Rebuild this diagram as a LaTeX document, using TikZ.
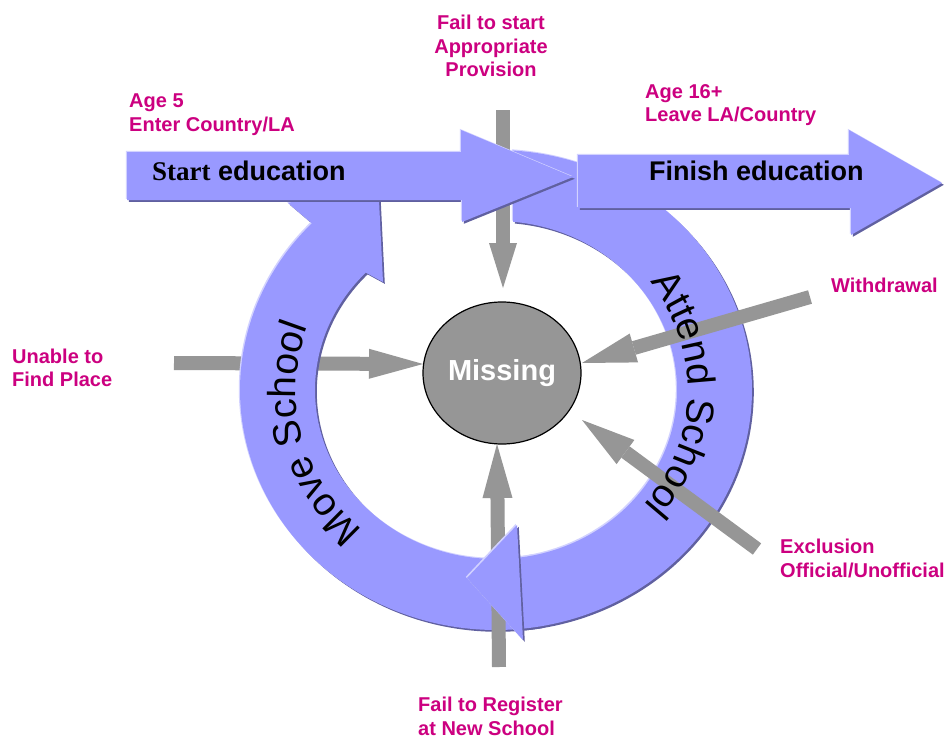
\documentclass[tikz,border=0pt]{standalone}
\usepackage{fontspec}
\setmainfont{Liberation Sans}
\newfontfamily\serifbold{Liberation Serif}
\usetikzlibrary{arrows.meta,decorations.text,shapes.geometric}
\definecolor{bandblue}{RGB}{153,153,255}
\definecolor{banddark}{RGB}{96,96,160}
\definecolor{bandlight}{RGB}{210,210,255}
\definecolor{arrowgray}{RGB}{150,150,150}
\definecolor{labelpink}{RGB}{204,0,128}
\newcommand\MoveBandPath{plot[domain=80:224,samples=120] ({496+256*cos(\x)},{390+240*sin(\x)}) -- (288,203) -- (378,180) -- (383,282) -- plot[domain=224:78,samples=120] ({496+181*cos(\x)},{390+169*sin(\x)}) -- cycle}
\newcommand\AttendBandPath{plot[domain=-86.2:84.6,samples=150] ({496+256*cos(\x)},{390+240*sin(\x)}) -- plot[domain=82.4:-84.6,samples=150] ({496+181*cos(\x)},{390+169*sin(\x)}) -- cycle}
\newcommand\AttendHeadPath{(467,578) -- (517,525) -- (523,640) -- cycle}
\newcommand\StartArrowPath{(127,152) -- (461,152) -- (461,130) -- (573,177) -- (462,222) -- (462,200) -- (127,200) -- cycle}
\newcommand\FinishArrowPath{(578,155) -- (849,155) -- (849,130) -- (942,183) -- (851,235) -- (851,208) -- (578,208) -- cycle}
\newcommand\bevelfill[1]{%
  \fill[banddark,shift={(1.8,1.8)}] #1;
  \fill[bandlight,shift={(-1.2,-1.2)}] #1;
  \fill[bandblue] #1;}
\tikzset{
  grayarr/.style={draw=arrowgray,line width=14pt,-{Triangle[length=54pt,width=30pt,line width=0pt]}},
  lbl/.style={text=labelpink,inner sep=0pt,font=\fontsize{20}{23.5}\selectfont\bfseries},
  bigtxt/.style={inner sep=0pt,anchor=base west,font=\fontsize{27}{27}\selectfont\bfseries},
}
\begin{document}
\begin{tikzpicture}[x=1pt,y=-1pt]
\useasboundingbox (0,0) rectangle (946,736);
\fill[white] (0,0) rectangle (946,736);
% coordinates for grey arrows
\coordinate (unT) at (174,363);  \coordinate (unH) at (423,364);
\coordinate (fsT) at (503,110);  \coordinate (fsH) at (503,288);
\coordinate (wdT) at (810,297);  \coordinate (wdH) at (582,363);
\coordinate (exT) at (757,549);  \coordinate (exH) at (582,420);
\coordinate (frT) at (499,667);  \coordinate (frH) at (497,444);
% arrow under the Move School band
\draw[grayarr] (unT) -- (unH);
% bands
\bevelfill{\MoveBandPath}
\bevelfill{\AttendBandPath}
% grey arrows above the bands
\draw[grayarr,-{Triangle[length=45pt,width=28pt,line width=0pt]}] (fsT) -- (fsH);
\draw[grayarr] (wdT) -- (wdH);
\draw[grayarr] (exT) -- (exH);
\draw[grayarr] (frT) -- (frH);
% heads and big arrows
\bevelfill{\AttendHeadPath}
\bevelfill{\StartArrowPath}
\bevelfill{\FinishArrowPath}
% missing
\node[ellipse,draw=black,line width=1.2pt,fill=arrowgray,minimum width=158pt,minimum height=142pt,inner sep=0pt,
      text=white,font=\fontsize{29}{29}\selectfont\bfseries] (missing) at (502,373) {Missing};
% arrow texts
\node[bigtxt] (starttxt) at (152,180) {{\serifbold Start} education};
\node[bigtxt] (finishtxt) at (649,180) {Finish education};
% band texts
\path[decorate,decoration={text along path,text align=center,
   text={|\fontsize{39}{39}\selectfont|Attend School}}]
   plot[domain=-45:48,samples=200] ({496+192*cos(\x)},{390+180*sin(\x)});
\path[decorate,decoration={text along path,text align=center,
   text={|\fontsize{39}{39}\selectfont|Move School}}]
   plot[domain=121:211,samples=200] ({496+200*cos(\x)},{390+188*sin(\x)});
% labels
\node[lbl,align=left,anchor=north west] (lage5) at (129,93.7) {Age 5\\Enter Country/LA};
\node[lbl,align=center,anchor=north] (lfail) at (491,15.2) {Fail to start\\Appropriate\\Provision};
\node[lbl,align=left,anchor=north west] (lage16) at (645,84.2) {Age 16+\\Leave LA/Country};
\node[lbl,align=left,anchor=north west] (lwith) at (831,277.7) {Withdrawal};
\node[lbl,align=left,anchor=north west] (lunable) at (12,348.7) {Unable to\\Find Place};
\node[lbl,align=left,anchor=north west] (lexcl) at (780,539.2) {Exclusion\\Official/Unofficial};
\node[lbl,align=left,anchor=north west] (lreg) at (418,697) {Fail to Register\\at New School};
\end{tikzpicture}
\end{document}
